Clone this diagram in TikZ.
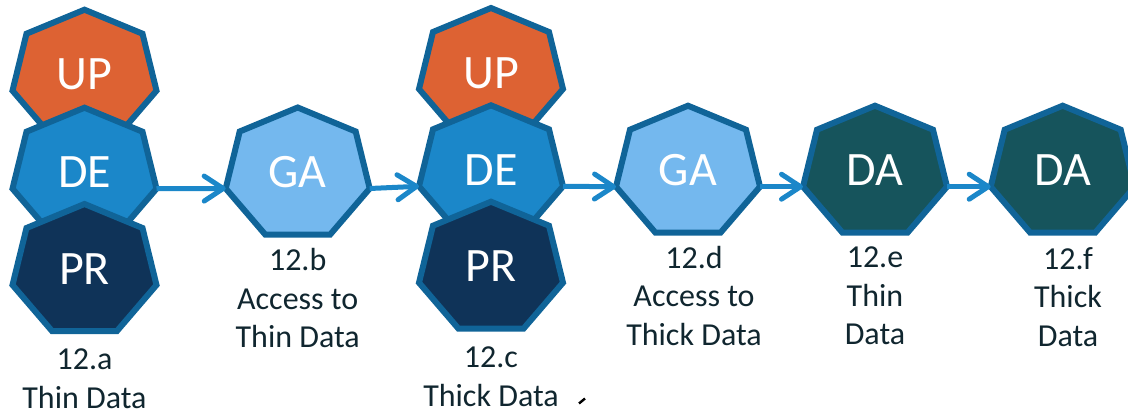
\documentclass[tikz,border=0pt]{standalone}
\usepackage{fontspec}
\setmainfont{Carlito}
\usetikzlibrary{arrows.meta}
\makeatletter
\pgfdeclareshape{heptagonshape}{
  \savedanchor\textorigin{\pgf@x=-.5\wd\pgfnodeparttextbox \pgf@y=1pt}
  \anchor{text}{\textorigin}
  \anchor{center}{\pgfpointorigin}
  \anchor{west}{\pgfpoint{-72pt}{0pt}}
  \anchor{east}{\pgfpoint{72pt}{0pt}}
  \backgroundpath{
    \pgfpathmoveto{\pgfpoint{0pt}{81pt}}
    \pgfpathlineto{\pgfpoint{58pt}{57pt}}
    \pgfpathlineto{\pgfpoint{72pt}{0pt}}
    \pgfpathlineto{\pgfpoint{32.5pt}{-46pt}}
    \pgfpathlineto{\pgfpoint{-32.5pt}{-46pt}}
    \pgfpathlineto{\pgfpoint{-72pt}{0pt}}
    \pgfpathlineto{\pgfpoint{-58pt}{57pt}}
    \pgfpathclose
  }
}
\makeatother
\definecolor{edgeblue}{HTML}{106498}
\definecolor{upfill}{HTML}{DD6233}
\definecolor{defill}{HTML}{1B87C9}
\definecolor{gafill}{HTML}{74B8EE}
\definecolor{prfill}{HTML}{0F3358}
\definecolor{dafill}{HTML}{16545C}
\definecolor{labeltext}{HTML}{10262F}
\tikzset{
  hept/.style={shape=heptagonshape,draw=edgeblue,line width=6pt,line join=miter,text=white,inner sep=0pt,font=\fontsize{48}{48}\selectfont},
  lab/.style={anchor=north,inner sep=0pt,align=center,text=labeltext,font=\fontsize{32}{38.5}\selectfont,execute at begin node={\rule{0pt}{23pt}}},
  flow/.style={draw=defill,line width=5pt,-{Straight Barb[length=19pt,width=25pt,round]}}
}
\begin{document}
\begin{tikzpicture}[x=1pt,y=-1pt]
\useasboundingbox (0,0) rectangle (1128,415);
% group a
\node[hept,fill=upfill] (upa) at (84.5,90.7) {UP};
\node[hept,fill=defill] (dea) at (84.5,188.7) {DE};
\node[hept,fill=prfill] (pra) at (84.5,285) {PR};
\node[hept,fill=gafill] (gab) at (297.7,188.5) {GA};
% group c
\node[hept,fill=upfill] (upc) at (491,89) {UP};
\node[hept,fill=defill] (dec) at (491,186.3) {DE};
\node[hept,fill=prfill] (prc) at (491,282.7) {PR};
\node[hept,fill=gafill] (gad) at (688,186.7) {GA};
\node[hept,fill=dafill] (dae) at (875,186.7) {DA};
\node[hept,fill=dafill] (daf) at (1062.7,186.7) {DA};
% connectors
\draw[flow] (dea.east) -- (gab.west);
\draw[flow] (gab.east) -- (dec.west);
\draw[flow] (dec.east) -- (gad.west);
\draw[flow] (gad.east) -- (dae.west);
\draw[flow] (dae.east) -- (daf.west);
% labels
\node[lab] (la) at (84.5,349) {12.a\\Thin Data};
\node[lab] (lb) at (297.7,248.3) {12.b\\Access to\\Thin Data};
\node[lab] (lc) at (491,347) {12.c\\Thick Data};
\node[lab] (ld) at (694,245.7) {12.d\\Access to\\Thick Data};
\node[lab] (le) at (875,247) {12.e\\Thin\\Data};
\node[lab] (lf) at (1068,247) {12.f\\Thick\\Data};
% stray mark
\coordinate (marka) at (579,403.5);
\coordinate (markb) at (585,398.5);
\draw[black,line width=2.4pt] (marka) -- (markb);
\end{tikzpicture}
\end{document}
